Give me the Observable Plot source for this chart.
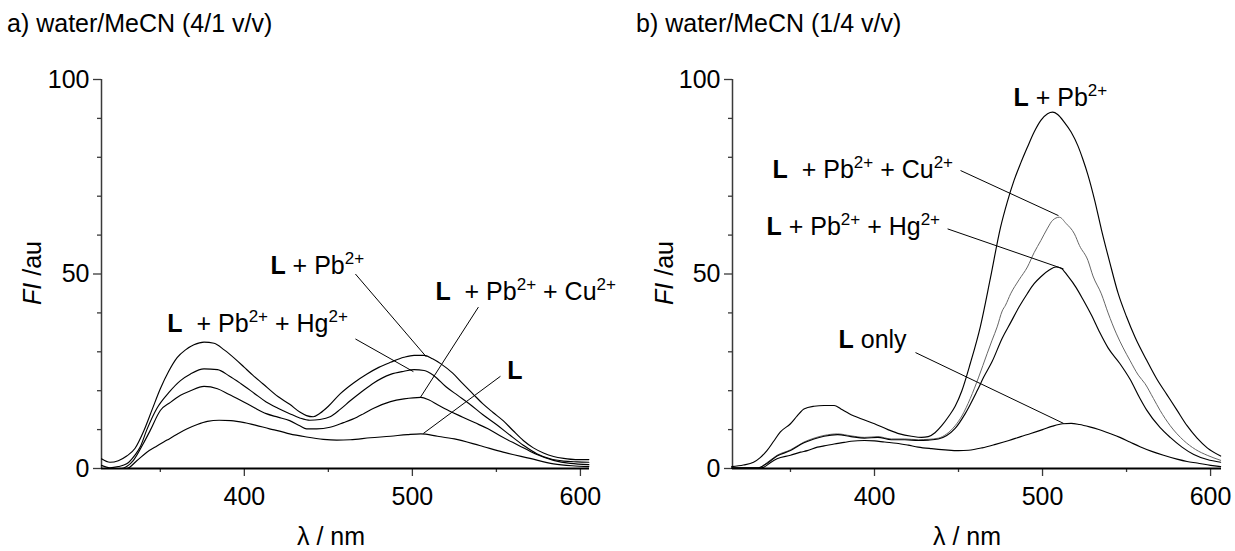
<!DOCTYPE html>
<html><head><meta charset="utf-8">
<script src="https://cdn.jsdelivr.net/npm/d3@7"></script>
<script src="https://cdn.jsdelivr.net/npm/@observablehq/plot@0.6"></script>
<style>
body{margin:0;background:#fff;}
#wrap{position:relative;width:1235px;height:551px;overflow:hidden;font-family:"Liberation Sans",Arial,sans-serif;color:#000;}
.title{position:absolute;font-size:25px;white-space:nowrap;line-height:1;}
.xlab{position:absolute;font-size:25px;white-space:nowrap;line-height:1;transform:translateX(-50%);}
.ylab{position:absolute;font-size:25px;white-space:nowrap;line-height:1;transform:translate(-50%,-50%) rotate(-90deg);}
</style></head><body>
<div id="wrap">
<div class="title" style="left:7px;top:11px">a) water/MeCN (4/1 v/v)</div>
<div class="title" style="left:636px;top:11px">b) water/MeCN (1/4 v/v)</div>
<div class="xlab" style="left:331px;top:524px">λ / nm</div>
<div class="xlab" style="left:967px;top:524px">λ / nm</div>
<div class="ylab" style="left:32px;top:273px"><i>FI</i> /au</div>
<div class="ylab" style="left:664px;top:273px"><i>FI</i> /au</div>
</div>
<script>
// ---------- Panel a: water/MeCN (4/1 v/v) ----------
const wA_Pb = [315,320,325,330,335,340,345,350,355,360,365,370,376,382,388,395,400,405,411,420,427,433,437,441,445,450,457,465,473,480,487,495,501,507,512,517,524,530,536,542,548,554,560,566,572,578,584,590,597,605];
const fA_Pb = [2.5,1.6,2.0,3.2,5.2,9.5,15,20.5,25,28.5,30.5,31.8,32.5,32.2,30.5,28,26,24,21.8,18.5,16.5,14.5,13.6,13.3,14.2,16,19.2,22,24.3,26,27.3,28.6,29.1,29.1,28.2,26.9,24.5,21.8,19.2,16.6,14.4,12.3,9.7,7.2,5.3,4,3.1,2.6,2.3,2.3];
const wA_Hg = [315,320,325,330,335,338,342,348,355,362,368,376,384,391,398,406,413,420,427,433,439,445,451,457,463,470,477,487,495,501,507,513,520,527,534,542,550,558,566,574,582,590,598,605];
const fA_Hg = [0.8,0.2,0.5,1.2,3.5,5.5,10,15.5,19.5,22.6,24.3,25.6,25.4,23.8,21.8,19.3,17.1,15.5,14.1,13,12.4,12.6,13.3,15.2,17.4,19.8,22,24.2,25,25.4,25.2,23.8,21,18.8,16.6,13.8,11.3,8.6,6,3.8,2.5,1.9,1.7,1.6];
const wA_Cu = [315,327,330,334,340,344,350,356,362,368,376,384,391,398,406,413,420,427,433,437,443,451,459,467,471,477,487,495,505,510,515,522,530,537,545,553,563,573,584,594,605];
const fA_Cu = [0,0,0.5,2.1,6.5,9.8,14.9,17,18.8,20,21.1,20.5,19,17.5,15.6,14.1,13.2,12.3,11,10.2,10.2,10.6,11.8,13.2,14.1,15.5,17.2,17.9,18.3,17.6,16.4,14.8,13.2,11.8,10.2,8.2,6.0,3.8,2.1,1.3,1.0];
const wA_L = [315,330,336,342,348,354,360,366,372,378,385,392,400,407,415,421,427,437,447,455,463,475,487,497,505,515,525,540,554,570,584,595,605];
const fA_L = [0,0,2.0,4.2,5.8,7.3,8.8,10.2,11.3,12.1,12.4,12.3,11.8,11.1,10.2,9.6,8.9,8.1,7.5,7.3,7.4,7.9,8.3,8.7,8.9,8.3,7.6,5.9,4.2,2.6,1.2,0.7,0.5];

// ---------- Panel b: water/MeCN (1/4 v/v) ----------
const wB_Pb = [315,322,328,332,336,340,344,350,354,358,364,370,376,380,385,392,400,408,415,422,428,432,436,440,444,448,452,457,463,469,475,479,483,487,491,495,499,503,506,509,513,517,521,524,527,531,535,540,545,550,555,562,568,574,580,586,592,598,606];
const fB_Pb = [0.5,0.9,1.6,2.8,4.6,7,9.4,11.5,13.5,15.3,16,16.2,16.2,15.3,14.1,12.8,11.5,10,8.9,8.3,8.0,8.2,9.2,11,13.3,16,20,27,36.5,49,62,68.5,74,78.5,82.6,86.5,89.5,91.2,91.6,91,89,86.5,83,79.5,75.5,69,61.5,53,45,39,33.8,27.8,23,19,15,11,7.8,5.3,3.2];
const wB_Cu = [315,331,336,342,350,358,364,370,378,386,394,402,410,418,426,432,438,443,448,452,457,462,467,470,473,476,478,481,486,491,495,499,503,506,510,514,519,522,527,530,535,539,544,548,552,557,561,566,570,576,584,591,598,606];
const fB_Cu = [0.2,0.2,1.5,3.4,4.8,6.8,7.8,8.5,8.9,8.4,8.0,8.2,7.6,7.6,7.4,7.5,7.8,8.9,11,13.5,18,23.5,29.5,33,36.4,40.5,42,44.9,48.5,51.8,55.5,58.6,61.8,63.8,64.6,63,60.3,57.3,53.5,49.5,44.9,40,34.6,31,27.8,24,21.8,18,14.9,11,7.2,4.9,3.4,2.1];
const wB_Hg = [315,331,336,342,350,358,364,370,378,386,394,402,410,418,426,432,438,443,448,454,461,465,470,476,481,486,491,495,499,504,508,511,515,520,524,529,534,539,546,552,558,562,570,576,583,590,598,606];
const fB_Hg = [0.2,0.2,1.3,3.2,4.6,6.6,7.6,8.3,8.7,8.2,7.8,8.0,7.4,7.4,7.2,7.3,7.6,8.5,10.3,14.1,19.9,23.5,27.5,33.5,37.5,41.5,45,47.5,49.3,51,51.8,51.5,49.5,46.5,43.5,39.5,35,31,27,23,18,15,10.5,8,5.5,3.6,2.3,1.6];
const wB_L = [315,330,334,338,342,350,356,360,366,370,376,382,386,394,400,406,413,420,426,434,442,450,456,464,472,480,487,493,500,506,512,517,522,528,533,540,546,552,558,565,572,580,586,592,600,606];
const fB_L = [0,0,0.3,1.5,2.5,3.4,4.2,4.6,5.5,5.8,6.3,6.7,7.0,7.2,7.1,6.8,6.5,6.0,5.5,5.1,4.8,4.6,4.7,5.3,6.2,7.2,8.2,9.0,10,10.9,11.5,11.6,11.3,10.7,10.1,9.0,8.0,6.8,5.6,4.4,3.4,2.4,1.8,1.4,0.8,0.5];

// ---------- axis ticks ----------
const yMajor = [0, 50, 100];
const yMinor = [10, 20, 30, 40, 60, 70, 80, 90];
const xMajor = [400, 500, 600];
const xMinor = [350, 450, 550];

// ---------- annotations (label text, anchor in data units, leader line) ----------
const labA = ["L + Pb2+", "L  + Pb2+ + Hg2+", "L  + Pb2+ + Cu2+", "L"];
const labA_w = [415.5, 354.2, 513.7, 556.5];
const labA_f = [49.9, 35.0, 43.2, 23.0];
const leadA_w1 = [466.1, 466.1, 539.3, 552.4];
const leadA_f1 = [50.0, 33.3, 41.5, 23.7];
const leadA_w2 = [508.3, 500.6, 504.8, 506.5];
const leadA_f2 = [28.7, 24.9, 18.3, 9.0];

const labB = ["L + Pb2+", "L  + Pb2+ + Cu2+", "L + Pb2+ + Hg2+", "L only"];
const labB_w = [482.7, 339.3, 335.7, 378.6];
const labB_f = [93.3, 74.8, 59.9, 31.1];
const leadB_w1 = [null, 451.2, 443.5, 424.4];
const leadB_f1 = [null, 76.6, 61.6, 29.8];
const leadB_w2 = [null, 509.5, 512.5, 512.5];
const leadB_f2 = [null, 65.0, 51.3, 11.6];

const FONT = "Liberation Sans, Arial, sans-serif";

function pts(w, f) { return w.map((x, i) => ({w: x, f: f[i]})); }

function makePanel({left, width, mLeft, mRight, domain, series, labs, lw, lf, w1, f1, w2, f2}) {
  const labels = labs.map((t, i) => ({t, w: lw[i], f: lf[i]}));
  const leads = w1.map((x, i) => ({x1: x, y1: f1[i], x2: w2[i], y2: f2[i]})).filter(d => d.x1 != null);
  const axisColor = "#3a3a3a";
  const plot = Plot.plot({
    width, height: 551,
    marginLeft: mLeft, marginRight: mRight, marginTop: 79, marginBottom: 83,
    x: {domain, axis: null},
    y: {domain: [0, 100], axis: null},
    style: {background: "transparent", fontFamily: FONT, fontSize: "25px", color: "#000", overflow: "visible"},
    marks: [
      Plot.axisY(yMinor, {tickSize: 4, tickFormat: () => "", label: null, stroke: axisColor, strokeWidth: 1.3}),
      Plot.axisY(yMajor, {tickSize: 8, tickPadding: 4, label: null, fontSize: 25, stroke: axisColor, strokeWidth: 1.3, fill: "#000"}),
      Plot.axisX(xMinor, {tickSize: 4, tickFormat: () => "", label: null, stroke: axisColor, strokeWidth: 1.3}),
      Plot.axisX(xMajor, {tickSize: 8, tickPadding: 11, label: null, fontSize: 25, stroke: axisColor, strokeWidth: 1.3, fill: "#000"}),
      Plot.ruleX([domain[0]], {y1: 0, y2: 100, stroke: axisColor, strokeWidth: 1.5}),
      ...series.map(s => Plot.line(pts(s.w, s.f), {x: "w", y: "f", stroke: s.color, strokeWidth: s.sw, curve: "monotone-x"})),
      Plot.ruleY([0], {stroke: "#000", strokeWidth: 2}),
      Plot.link(leads, {x1: "x1", y1: "y1", x2: "x2", y2: "y2", stroke: "#000", strokeWidth: 1}),
      Plot.text(labels, {x: "w", y: "f", text: "t", textAnchor: "start", lineAnchor: "bottom", fontSize: 25, fill: "#000"})
    ]
  });
  plot.style.position = "absolute";
  plot.style.left = left + "px";
  plot.style.top = "0px";
  richify(plot);
  document.getElementById("wrap").appendChild(plot);
}

// turn "L + Pb2+" style strings into bold L and superscript charges
function richify(svg) {
  d3.select(svg).selectAll("text").each(function() {
    const s = this.textContent;
    if (!/^L( |$)/.test(s)) return;
    const t = d3.select(this);
    t.text(null).style("white-space", "pre");
    const parts = s.match(/^L|2\+|[^2]+|2(?!\+)/g);
    let up = false;
    for (const p of parts) {
      const ts = t.append("tspan").text(p);
      if (p === "L") ts.attr("font-weight", "bold");
      else if (p === "2+") { ts.attr("font-size", "17px").attr("dy", -10); up = true; }
      else if (up) { ts.attr("dy", 10); up = false; }
    }
  });
}

makePanel({
  left: 0, width: 640, mLeft: 101, mRight: 51, domain: [315, 605.4],
  series: [
    {w: wA_Pb, f: fA_Pb, color: "#000", sw: 1.15},
    {w: wA_Hg, f: fA_Hg, color: "#000", sw: 1.15},
    {w: wA_Cu, f: fA_Cu, color: "#000", sw: 1.15},
    {w: wA_L, f: fA_L, color: "#000", sw: 1.15}
  ],
  labs: labA, lw: labA_w, lf: labA_f, w1: leadA_w1, f1: leadA_f1, w2: leadA_w2, f2: leadA_f2
});
makePanel({
  left: 620, width: 615, mLeft: 112, mRight: 14, domain: [315.5, 606.5],
  series: [
    {w: wB_Pb, f: fB_Pb, color: "#000", sw: 1.15},
    {w: wB_Cu, f: fB_Cu, color: "#666", sw: 1},
    {w: wB_Hg, f: fB_Hg, color: "#000", sw: 1.15},
    {w: wB_L, f: fB_L, color: "#000", sw: 1.15}
  ],
  labs: labB, lw: labB_w, lf: labB_f, w1: leadB_w1, f1: leadB_f1, w2: leadB_w2, f2: leadB_f2
});
</script>
</body></html>
